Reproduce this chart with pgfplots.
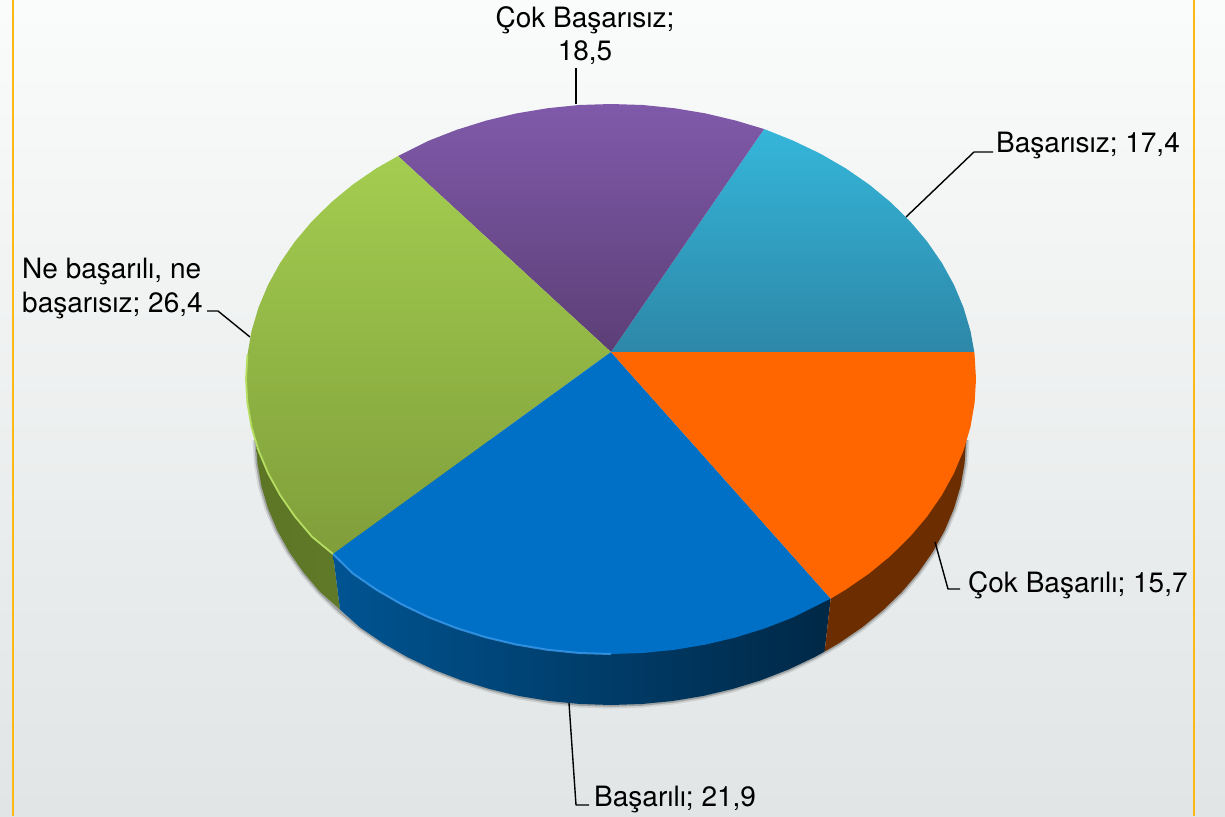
\documentclass[border=0pt]{standalone}
\usepackage{pgfplots}
\pgfplotsset{compat=1.18}
\usepackage{fontspec}
\setmainfont{TeX Gyre Heros}
\definecolor{gold}{HTML}{FDB913}
\tikzset{lab/.style={font=\fontsize{28}{32}\selectfont, text=black, inner sep=0pt, align=left}}
\pgfplotstableread{
x y
256 440
257.4 463.1
261.4 486.0
268.1 508.6
277.4 530.6
289.3 552.0
303.6 572.5
320.2 592.0
339.1 610.3
360 627.4
382.8 643
407.4 657.1
433.5 669.5
461 680.2
489.6 689
519.1 696
549.4 701
580.1 704
611 705
641.9 704
672.6 701
702.9 696
732.4 689
761 680.2
788.5 669.5
814.6 657.1
839.2 643
862 627.4
882.9 610.3
901.8 592
918.4 572.5
932.7 552
944.6 530.6
953.9 508.6
960.6 486
964.6 463.1
966 440
}\lowerarc
\begin{document}
\begin{tikzpicture}
\begin{axis}[
  width=1225pt, height=816pt, scale only axis,
  xmin=0, xmax=1225, ymin=0, ymax=816, y dir=reverse,
  hide axis, no markers, clip=true,
  every axis plot/.append style={line join=round},
]
% background
\addplot[draw=none, top color={rgb,255:red,250;green,251;blue,251}, bottom color={rgb,255:red,225;green,229;blue,229}] coordinates {(0,0)(1225,0)(1225,816)(0,816)} --cycle;
% frame
\addplot[gold, line width=2.6pt] coordinates {(13,0)(13,816)};
\addplot[gold, line width=2.6pt] coordinates {(1194,0)(1194,816)};
% soft shadow
\addplot[black, opacity=.10, line width=7pt] table {\lowerarc};
\addplot[black, opacity=.22, line width=3.5pt] table {\lowerarc};
% side walls
\addplot[draw=none, left color={rgb,255:red,92;green,118;blue,38}, right color={rgb,255:red,104;green,128;blue,44}] coordinates {
(256,440)(257.4,463.1)(261.4,486.0)(268.1,508.6)(277.4,530.6)(289.3,552.0)(303.6,572.5)(320.2,592.0)(340,609.5)(333,554)(500,440)} --cycle;
\addplot[draw=none, left color={rgb,255:red,0;green,84;blue,146}, middle color={rgb,255:red,0;green,44;blue,80}, right color={rgb,255:red,0;green,40;blue,70}] coordinates {
(333,554)(340,609.5)(360,627.4)(382.8,643)(407.4,657.1)(433.5,669.5)(461,680.2)(489.6,689)(519.1,696)(549.4,701)(580.1,704)(611,705)(641.9,704)(672.6,701)(702.9,696)(732.4,689)(761,680.2)(788.5,669.5)(814.6,657.1)(824.6,651.6)(830.7,598.6)(611,500)} --cycle;
\addplot[draw=none, fill={rgb,255:red,108;green,46;blue,0}] coordinates {
(830.7,598.6)(824.6,651.6)(839.2,643)(862,627.4)(882.9,610.3)(901.8,592)(918.4,572.5)(932.7,552)(944.6,530.6)(953.9,508.6)(960.6,486)(964.6,463.1)(966,440)(800,440)} --cycle;
% top: Başarısız
\addplot[draw=none, top color={rgb,255:red,53;green,182;blue,217}, bottom color={rgb,255:red,45;green,135;blue,168}] coordinates {
(611,352)(974.3,352)(970.5,331.2)(963.6,307.8)(954.0,284.9)(941.8,262.8)(927.1,241.5)(910.0,221.3)(890.6,202.2)(869.1,184.5)(845.6,168.3)(820.4,153.7)(793.5,140.8)(764,129)} --cycle;
% top: Çok Başarısız
\addplot[draw=none, top color={rgb,255:red,128;green,90;blue,170}, bottom color={rgb,255:red,92;green,62;blue,118}] coordinates {
(611,352)(764,129)(735.8,120.6)(705.5,113.4)(674.4,108.2)(642.8,105.0)(611,104)(579.2,105.0)(547.6,108.2)(516.5,113.4)(486.2,120.6)(456.7,129.8)(428.5,140.8)(398,156)} --cycle;
% top: Ne başarılı, ne başarısız
\addplot[draw=none, top color={rgb,255:red,163;green,205;blue,80}, bottom color={rgb,255:red,128;green,158;blue,58}] coordinates {
(611,352)(398,156)(376.4,168.3)(352.9,184.5)(331.4,202.2)(312.0,221.3)(294.9,241.5)(280.2,262.8)(268.0,284.9)(258.4,307.8)(251.5,331.2)(247.4,355.0)(246,379)(247.4,403.0)(251.5,426.8)(258.4,450.2)(268.0,473.1)(280.2,495.2)(294.9,516.5)(312.0,536.7)(333,554)} --cycle;
% top: Başarılı
\addplot[draw=none, fill={rgb,255:red,0;green,112;blue,199}] coordinates {
(611,352)(333,554)(352.9,573.5)(376.4,589.7)(401.6,604.3)(428.5,617.2)(456.7,628.2)(486.2,637.4)(516.5,644.6)(547.6,649.8)(579.2,653.0)(611,654)(642.8,653.0)(674.4,649.8)(705.5,644.6)(735.8,637.4)(765.3,628.2)(793.5,617.2)(830.7,598.6)} --cycle;
% top: Çok Başarılı
\addplot[draw=none, fill={rgb,255:red,255;green,102;blue,0}] coordinates {
(611,352)(830.7,598.6)(845.6,589.7)(869.1,573.5)(890.6,555.8)(910.0,536.7)(927.1,516.5)(941.8,495.2)(954.0,473.1)(963.6,450.2)(970.5,426.8)(974.6,403.0)(976,379)(974.6,355.0)(974.3,352)} --cycle;
% rim highlights
\addplot[color={rgb,255:red,182;green,222;blue,98}, line width=1.8pt] coordinates {
(247.4,355.0)(246,379)(247.4,403.0)(251.5,426.8)(258.4,450.2)(268.0,473.1)(280.2,495.2)(294.9,516.5)(312.0,536.7)(333,554)};
\addplot[color={rgb,255:red,60;green,155;blue,235}, opacity=.8, line width=2pt] coordinates {
(333,554)(352.9,573.5)(376.4,589.7)(401.6,604.3)(428.5,617.2)(456.7,628.2)(486.2,637.4)(516.5,644.6)(547.6,649.8)(579.2,653.0)(611,654)};
% leaders
\addplot[black, line width=1.4pt] coordinates {(576,104)(576,68)};
\addplot[black, line width=1.4pt] coordinates {(906,217)(974,152)(993,152)};
\addplot[black, line width=1.4pt] coordinates {(935,542)(948,589)(960,589)};
\addplot[black, line width=1.4pt] coordinates {(207,311)(218,311)(250,337)};
\addplot[black, line width=1.4pt] coordinates {(569,703)(576,805)(589,805)};
% labels
\node[lab, anchor=base] at (axis cs:585,28) {Çok Başarısız;};
\node[lab, anchor=base] at (axis cs:585,60) {18,5};
\node[lab, anchor=base west] at (axis cs:996,152) {Başarısız; 17,4};
\node[lab, anchor=base west] at (axis cs:968,592) {Çok Başarılı; 15,7};
\node[lab, anchor=base west] at (axis cs:594,806) {Başarılı; 21,9};
\node[lab, anchor=base west] at (axis cs:22,278) {Ne başarılı, ne};
\node[lab, anchor=base west] at (axis cs:22,312) {başarısız; 26,4};
\end{axis}
\end{tikzpicture}
\end{document}
